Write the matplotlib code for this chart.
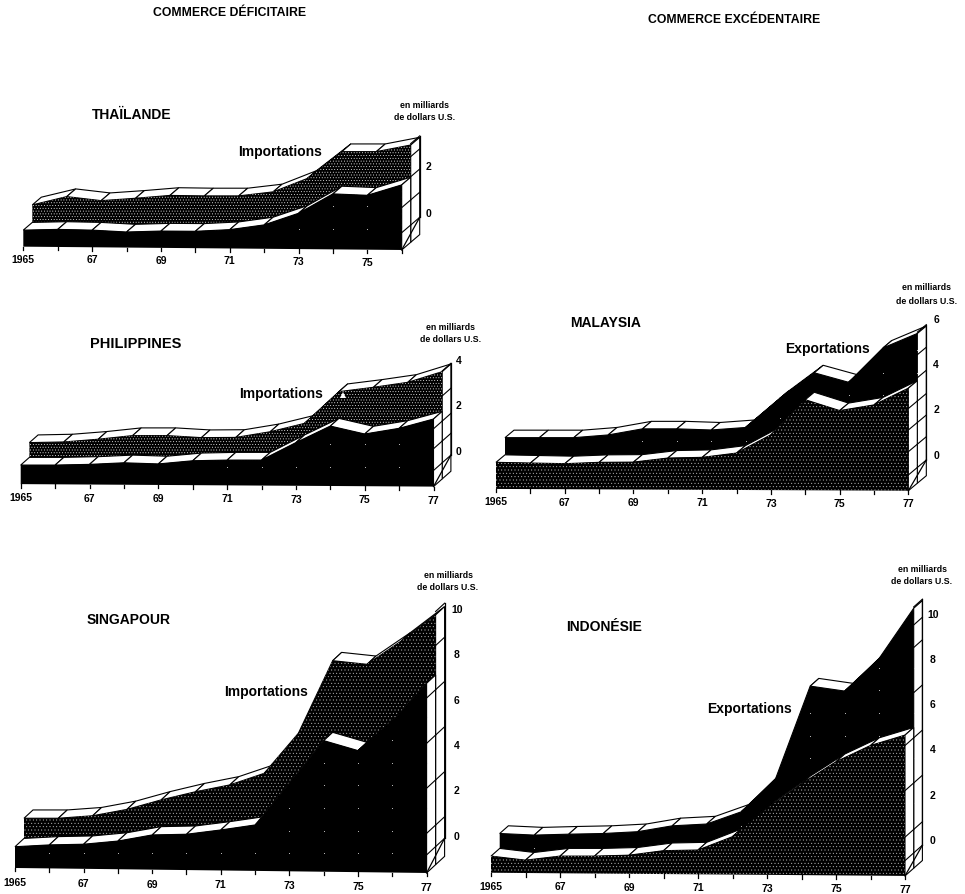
import numpy as np
import matplotlib
matplotlib.use('Agg')
import matplotlib.pyplot as plt

W, H = 965, 894

plt.rcParams['font.family'] = ['Liberation Sans', 'DejaVu Sans']
plt.rcParams['font.weight'] = 'bold'
plt.rcParams['hatch.linewidth'] = 0.3

# annees
annees_76 = np.arange(1965, 1977)
annees_77 = np.arange(1965, 1978)

# en milliards de dollars, ruban avant puis ruban arriere
thai_avant = [-.03, 0, -.03, -.11, -.07, -.08, -.01, .19, .68, 1.5, 1.44, 1.88]
thai_arriere = [.71, 1.06, .89, .99, 1.11, 1.09, 1.09, 1.26, 1.83, 2.96, 2.96, 3.24]
thai_paroi = [3.3, 2.75, 1.9, .92, -.14]

phil_avant = [.09, .09, .12, .19, .14, .28, .31, .31, 1.08, 1.81, 1.46, 1.71, 2.12]
phil_arriere = [.74, .77, .89, 1.05, 1.05, .96, .97, 1.22, 1.59, 2.99, 3.18, 3.4, 3.87]
phil_paroi = [3.9, 2.8, 1.69, .81, -.15]

mala_avant = [.37, .34, .31, .37, .38, .56, .59, .78, 1.59, 3.14, 2.66, 2.91, 3.65]
mala_arriere = [1.13, 1.13, 1.13, 1.25, 1.52, 1.52, 1.47, 1.58, 2.87, 4.0, 3.58, 5.1, 5.74]
mala_paroi = [5.8, 4.8, 3.78, 2.75, 1.8, .84, -.19]

sing_avant = [.29, .37, .4, .54, .81, .84, 1.03, 1.25, 3.09, 4.97, 4.53, 5.81, 7.5]
sing_arriere = [1.18, 1.18, 1.29, 1.57, 1.99, 2.35, 2.65, 3.16, 4.93, 8.13, 7.97, 9.0, 10.15]
sing_paroi = [10.3, 8.8, 6.85, 4.85, 2.87, .88, -.07]

indo_avant = [0, -.18, 0, 0, .04, .24, .27, .86, 2.11, 3.2, 4.18, 4.9, 5.36]
indo_arriere = [.66, .59, .63, .66, .74, 1.0, 1.08, 1.62, 3.1, 7.19, 6.97, 8.42, 10.64]
indo_paroi = [10.7, 9.9, 8.9, 6.9, 4.9, 2.9, .84, -.2]

labels_annees_76 = ['1965', '67', '69', '71', '73', '75']
labels_annees_77 = ['1965', '67', '69', '71', '73', '75', '77']

fig = plt.figure(figsize=(W / 100, H / 100), dpi=100, facecolor='white')


def texte(x, y, s, size, **kw):
    fig.text(x / W, 1 - y / H, s, fontsize=size, ha='center', va='center', **kw)


def panneau(annees, avant, arriere, paroi, sol, ticks, labels, x0, px_an, y0, px_val,
            dx, dy, x_ticks, motif_avant, motif_arriere, gap, gris='#bdbdbd'):
    ax = fig.add_axes([0, 0, 1, 1])
    ax.set_xlim(1965 - x0 / px_an, 1965 + (W - x0) / px_an)
    ax.set_ylim((y0 - H) / px_val, y0 / px_val)
    ax.axis('off')
    ax.patch.set_alpha(0)

    an = np.array(annees, dtype=float)
    avant = np.array(avant)
    arriere = np.array(arriere)
    pas_x = dx / px_an
    pas_y = dy / px_val
    fond = np.interp(an, [an[0], an[-1]], sol)

    def X(x, p):
        return x + p * pas_x

    def Y(v, p):
        return v + (p - 2) * pas_y

    def ruban(serie, p, hachure):
        # dessus blanc, coupe par annee
        for i in range(len(an) - 1):
            xs = [X(an[i], p), X(an[i + 1], p), X(an[i + 1], p + 1), X(an[i], p + 1)]
            ys = [Y(serie[i], p), Y(serie[i + 1], p), Y(serie[i + 1], p + 1), Y(serie[i], p + 1)]
            ax.fill(xs, ys, facecolor='white', edgecolor='black', linewidth=0.8)
        # cote droit
        xe = an[-1]
        ax.fill([X(xe, p), X(xe, p + 1), X(xe, p + 1), X(xe, p)],
                [Y(serie[-1], p), Y(serie[-1], p + 1), fond[-1] + (p + 1) * pas_y, fond[-1] + p * pas_y],
                facecolor='white', edgecolor='black', linewidth=0.8)
        # face
        xs = np.r_[X(an, p), X(an[::-1], p)]
        ys = np.r_[Y(serie, p), (fond + p * pas_y)[::-1]]
        if hachure:
            ax.fill(xs, ys, facecolor='black', edgecolor=gris, hatch=hachure, linewidth=0)
        else:
            ax.fill(xs, ys, facecolor='black', edgecolor='none')
            # petits points du quadrillage, visibles sur le noir
            px, py = [], []
            for x, h, f in zip(an[1:], serie[1:], fond[1:]):
                for v in np.arange(-1, 11):
                    if f + p * pas_y + 0.3 < Y(v, p) < Y(h, p) - 0.3:
                        px.append(X(x, p))
                        py.append(Y(v, p))
            ax.scatter(px, py, s=0.6, color='#d0d0d0', linewidths=0)

    ruban(arriere, 1, motif_arriere)
    ruban(avant, 0, motif_avant)

    # paroi de droite et graduations
    xe = an[-1]
    ax.plot([X(xe, 2), X(xe, 2)], [paroi[-1], paroi[0]], color='black', lw=0.9)
    ax.plot([X(xe, 0), X(xe, 2)], [fond[-1], paroi[-1]], color='black', lw=0.9)
    for w in paroi:
        if w <= arriere[-1] + 0.2:
            ax.plot([X(xe, 1), X(xe, 2)], [Y(w, 1), w], color='black', lw=0.8)
        if w <= avant[-1]:
            ax.plot([X(xe, 0), X(xe, 1)], [Y(w, 0), Y(w, 1)], color='black', lw=0.8)

    # graduations du temps
    for x, f in zip(an, fond):
        ax.plot([x, x], [f, f - 3.5 / px_val], color='black', lw=0.9)
    for x, f, lab in zip(an[::2], fond[::2], labels):
        ax.text(x, f - gap / px_val, lab, fontsize=7.5, ha='center', va='center')

    for t in ticks:
        ax.text(1965 + (x_ticks - x0) / px_an, t, str(t), fontsize=7.5, ha='center', va='center')
    return ax


panneau(annees_76, thai_avant, thai_arriere, thai_paroi, [-1.38, -1.52], [0, 2], labels_annees_76,
        23.3, 34.4, 214, 23.67, 9, 7.7, 428, None, '......', 13, gris='#f0f0f0')
ax_phil = panneau(annees_77, phil_avant, phil_arriere, phil_paroi, [-1.43, -1.54], [0, 2, 4], labels_annees_77,
                  20.7, 34.4, 451.7, 22.67, 8.7, 7.7, 459, None, '......', 14, gris='#f0f0f0')
# petite tache blanche du document d'origine
ax_phil.plot([1974.37], [2.48], marker='^', ms=5, color='white', mew=0)
panneau(annees_77, mala_avant, mala_arriere, mala_paroi, [-1.47, -1.55], [0, 2, 4, 6], labels_annees_77,
        496, 34.36, 455.7, 22.6, 9, 7.5, 936, '.....', None, 13.5)
panneau(annees_77, sing_avant, sing_arriere, sing_paroi, [-1.38, -1.6], [0, 2, 4, 6, 8, 10], labels_annees_77,
        15, 34.3, 836.7, 22.67, 9, 8.3, 457, None, '.....', 15)
panneau(annees_77, indo_avant, indo_arriere, indo_paroi, [-1.42, -1.56], [0, 2, 4, 6, 8, 10], labels_annees_77,
        491, 34.5, 840.7, 22.57, 8.7, 7.7, 933, '.....', None, 14)

texte(230, 13, 'COMMERCE DÉFICITAIRE', 8.8)
texte(734, 20, 'COMMERCE EXCÉDENTAIRE', 8.8)

texte(132, 115, 'THAÏLANDE', 10)
texte(136, 344, 'PHILIPPINES', 10.5)
texte(606, 323, 'MALAYSIA', 10)
texte(129, 620, 'SINGAPOUR', 10)
texte(604, 627, 'INDONÉSIE', 10)

texte(280, 152, 'Importations', 10)
texte(281, 394, 'Importations', 10)
texte(828, 349, 'Exportations', 10)
texte(266, 692, 'Importations', 10)
texte(750, 709, 'Exportations', 10)

for x, y1, y2 in [(425, 105, 118), (451, 327, 339), (927, 288, 301), (448, 576, 587), (922, 569, 581)]:
    texte(x, y1, 'en milliards', 6.3)
    texte(x, y2, 'de dollars U.S.', 6.3)

fig.savefig('out.png', dpi=100)
